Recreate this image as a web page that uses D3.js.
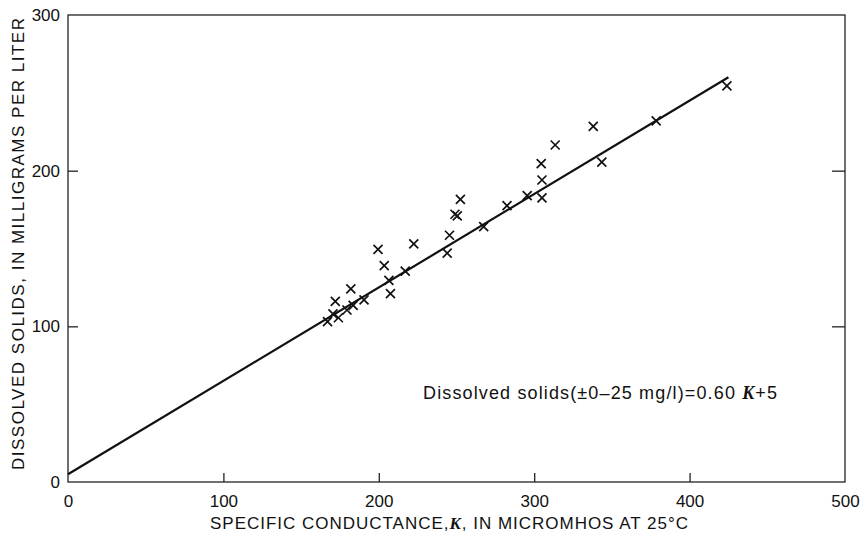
<!DOCTYPE html>
<html><head><meta charset="utf-8">
<script src="https://cdn.jsdelivr.net/npm/d3@7"></script>
<style>body{margin:0;background:#fff}svg{display:block}text{font-family:"Liberation Sans",Arial,sans-serif;fill:#111}</style>
</head><body><svg id="c" width="862" height="533"></svg>
<script>
const conductance = [167,170.5,174,172,179.5,183.5,182,190.5,199.5,203.5,206.5,207.5,217,222.5,244,245.5,249,250.5,252.5,267.5,282.5,295.5,304.5,305,305,313.5,338,343.5,378.5,424];
const solids      = [103,108,105.5,116,110.5,113.5,124,117,149.5,139,129.5,121,135.5,153,147,158.5,172,171,181.5,164,177.5,184,204.5,194,182.5,216.5,228.5,205.5,232,254.5];
const xTicks = [0,100,200,300,400,500];
const yTicks = [0,100,200,300];
const fitK = [0,425];
const slope = 0.60, intercept = 5;

const svg = d3.select("#c");
const x = d3.scaleLinear().domain([0,500]).range([68,845]);
const y = d3.scaleLinear().domain([0,300]).range([482,15]);
const FONT = "Liberation Sans, Arial, sans-serif";

svg.append("rect").attr("x",x(0)).attr("y",y(300)).attr("width",x(500)-x(0)).attr("height",y(0)-y(300))
  .attr("fill","none").attr("stroke","#222").attr("stroke-width",1.3);

svg.append("g").attr("transform",`translate(0,${y(0)})`)
  .call(d3.axisBottom(x).tickValues(xTicks).tickSize(-9).tickPadding(13).tickFormat(d3.format("d")))
  .call(g=>{g.select(".domain").remove();g.selectAll(".tick line").attr("stroke","#222").attr("stroke-width",1.3).filter(d=>d===0||d===500).remove();
    g.selectAll("text").attr("font-size",17).attr("fill","#111").style("font-family",FONT);});
svg.append("g").attr("transform",`translate(${x(0)},0)`)
  .call(d3.axisLeft(y).tickValues(yTicks).tickSize(-10).tickPadding(8).tickFormat(d3.format("d")))
  .call(g=>{g.select(".domain").remove();g.selectAll(".tick line").attr("stroke","#222").attr("stroke-width",1.3).filter(d=>d===0||d===300).remove();
    g.selectAll("text").attr("font-size",17).attr("fill","#111").style("font-family",FONT);});
svg.append("g").attr("transform",`translate(${x(500)},0)`)
  .call(d3.axisRight(y).tickValues(yTicks.filter(d=>d>0&&d<300)).tickSize(-13).tickFormat(""))
  .call(g=>{g.select(".domain").remove();g.selectAll(".tick line").attr("stroke","#222").attr("stroke-width",1.3);});

svg.append("line").attr("x1",x(fitK[0])).attr("y1",y(slope*fitK[0]+intercept))
  .attr("x2",x(fitK[1])).attr("y2",y(slope*fitK[1]+intercept))
  .attr("stroke","#111").attr("stroke-width",2.2);

const s = 4.5;
const pts = svg.append("g");
conductance.forEach((k,i)=>{
  const px=x(k), py=y(solids[i]);
  pts.append("path").attr("d",`M${px-s},${py-s}L${px+s},${py+s}M${px-s},${py+s}L${px+s},${py-s}`)
    .attr("stroke","#111").attr("stroke-width",1.7).attr("fill","none");
});

const xt = svg.append("text").attr("x",210).attr("y",529).attr("font-size",17)
  .attr("textLength",478).attr("lengthAdjust","spacing");
xt.append("tspan").text("SPECIFIC CONDUCTANCE,");
xt.append("tspan").text("K").attr("font-style","italic").attr("font-weight","bold").style("font-family","Liberation Serif, serif");
xt.append("tspan").text(", IN MICROMHOS AT 25°C");

svg.append("text").attr("transform","translate(24,470) rotate(-90)")
  .attr("font-size",17).attr("textLength",452).attr("lengthAdjust","spacing").text("DISSOLVED SOLIDS, IN MILLIGRAMS PER LITER");

const an = svg.append("text").attr("x",423).attr("y",399).attr("font-size",18)
  .attr("textLength",354).attr("lengthAdjust","spacing");
an.append("tspan").text("Dissolved solids(±0–25 mg/l)=0.60 ");
an.append("tspan").text("K").attr("font-style","italic").attr("font-weight","bold").style("font-family","Liberation Serif, serif");
an.append("tspan").text("+5");
</script></body></html>
